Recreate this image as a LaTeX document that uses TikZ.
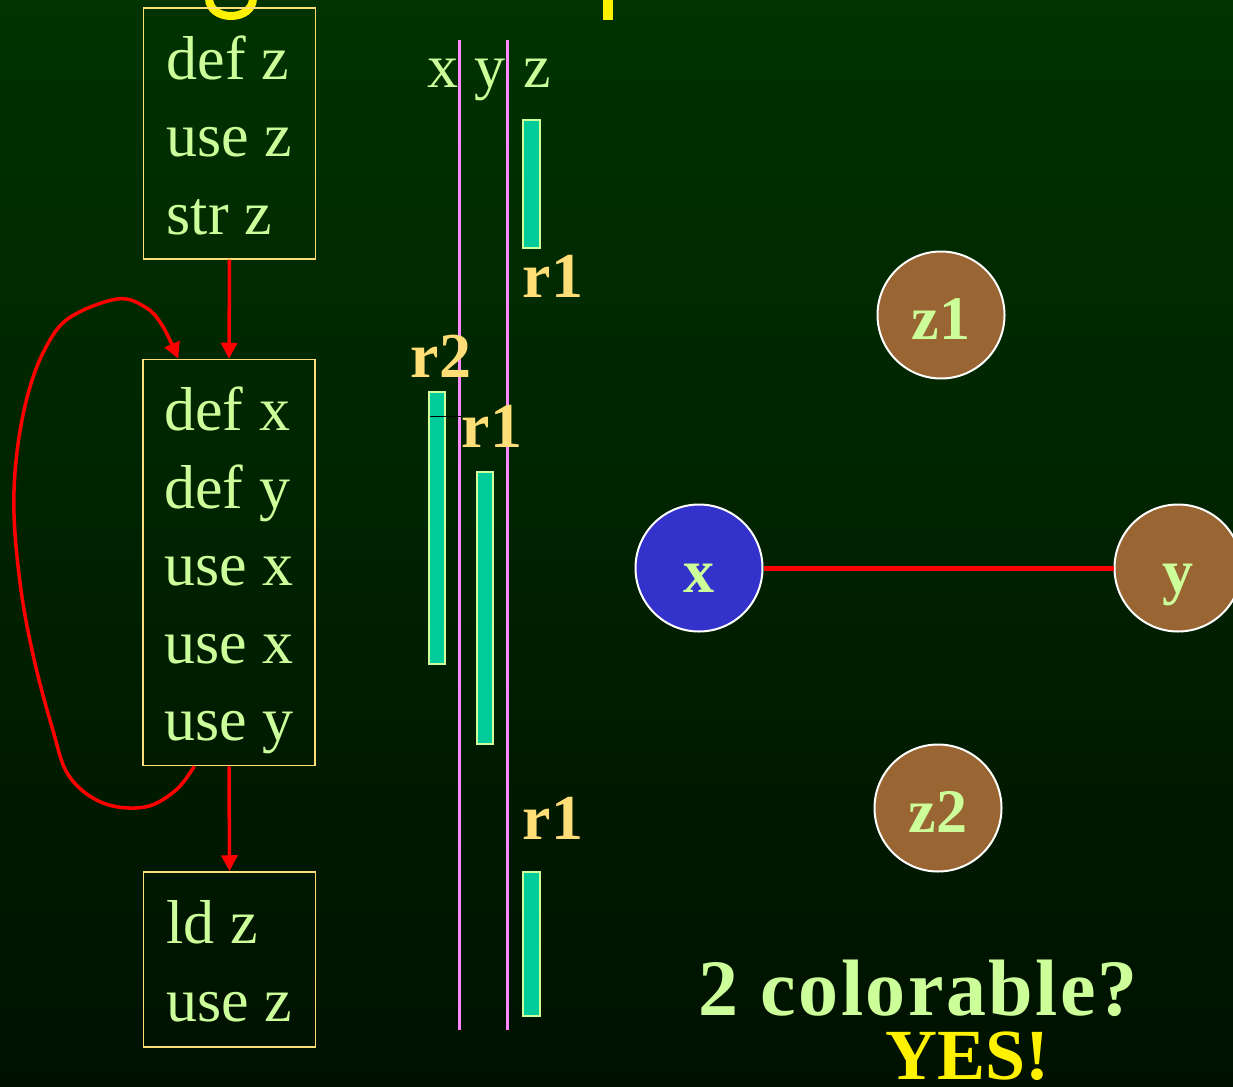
\documentclass[tikz,border=0pt]{standalone}
\usepackage{fontspec}
\setmainfont{Liberation Serif}
\usetikzlibrary{arrows.meta}

\definecolor{bgtop}{RGB}{0,51,0}
\definecolor{bgbot}{RGB}{0,17,0}
\definecolor{chalk}{RGB}{204,255,153}
\definecolor{gold}{RGB}{255,221,119}
\definecolor{rangefill}{RGB}{0,204,153}
\definecolor{lilac}{RGB}{255,136,255}
\definecolor{clay}{RGB}{153,102,51}
\definecolor{indigo}{RGB}{51,51,204}

% fixed room above the first and below the last line of a block
\newcommand{\lnhead}{\rule{0pt}{71pt}}
\newcommand{\lntail}{\rule[-25pt]{0pt}{25pt}}

\begin{document}
\begin{tikzpicture}[x=1pt, y=-1pt,
    block/.style={draw=gold, line width=1.5pt, rectangle, align=left, inner ysep=0pt, text=chalk, minimum width=172pt, font=\fontsize{62}{77.5}\selectfont},
    flow/.style={draw=red, line width=3.5pt, -{Triangle[length=16pt, width=16pt]}},
    var/.style={text=chalk, anchor=base, font=\fontsize{62}{62}\selectfont},
    reg/.style={text=gold, anchor=base, font=\bfseries\fontsize{64}{64}\selectfont},
    live/.style={draw=chalk, fill=rangefill, line width=2pt},
    column/.style={draw=lilac, line width=3pt},
    vnode/.style={circle, draw=white, line width=2pt, minimum size=127pt, inner sep=0pt, text=chalk, text height=48pt, text depth=0pt, font=\bfseries\fontsize{62}{62}\selectfont}]
    \useasboundingbox (0,0) rectangle (1233,1086);
    \shade[top color=bgtop, bottom color=bgbot] (0,0) rectangle (1233,1086);
    \clip (0,0) rectangle (1233,1086);

    % Title remains
    \draw[yellow, line width=8pt] (209,-2) .. controls (209,22) and (253,22) .. (253,-2);
    \fill[yellow] (603,0) rectangle (613,20);

    % Blocks
    \node[block, minimum height=251pt] (cfgA) at (229.5,133.5) {\lnhead def z\\use z\\str z\lntail};
    \node[block, minimum height=405pt] (cfgB) at (229,562.5) {\lnhead def x\\def y\\use x\\use x\\use y\lntail};
    \node[block, minimum height=175pt] (cfgC) at (229.5,959.5) {\lnhead ld z\\use z\lntail};

    % Arrows
    \draw[flow] (cfgA.south) -- (cfgB.north);
    \draw[flow] (cfgB.south) -- (cfgC.north);
    \coordinate (loopOut) at ([xshift=52pt]cfgB.south west);
    \coordinate (loopIn) at ([xshift=36pt]cfgB.north west);
    \draw[flow] plot[smooth, tension=0.6] coordinates {(loopOut) (176,790) (145,807) (103,803) (69,776) (52,727) (34,659) (21,590) (14,514) (17,452) (28,394) (45,349) (69,318) (117,299) (145,307) (162,325) (loopIn)};

    % Live ranges
    \draw[column] (459,40) -- (459,1030);
    \draw[column] (507,40) -- (507,1030);
    \node[var] (hx) at (443,88) {x};
    \node[var] (hy) at (490,88) {y};
    \node[var] (hz) at (537,88) {z};
    \draw[live] (523,120) rectangle (540,248);
    \draw[live] (429,392) rectangle (445,664);
    \draw[live] (477,472) rectangle (493,744);
    \draw[live] (523,872) rectangle (540,1016);
    \draw[black, line width=1pt] (430,416) -- (462,416);
    \node[reg] (rzA) at (553,297) {r1};
    \node[reg] (rx) at (441,377) {r2};
    \node[reg] (ry) at (492,447) {r1};
    \node[reg] (rzB) at (553,839) {r1};

    % Interference graph
    \node[vnode, fill=clay] (z1) at (941,315) {z1};
    \node[vnode, fill=indigo] (vx) at (699,568) {x};
    \node[vnode, fill=clay, right of=vx, node distance=479pt] (vy) {y};
    \node[vnode, fill=clay] (z2) at (938,808) {z2};
    \draw[red, line width=5pt] (vx) -- (vy);

    \node[anchor=base west, text=chalk, font=\bfseries\fontsize{80}{80}\selectfont\addfontfeatures{LetterSpace=3}] (ask) at (695,1015) {2 colorable?};
    \node[anchor=base west, text=yellow, font=\bfseries\fontsize{72}{72}\selectfont] (answer) at (882,1079) {YES!};
\end{tikzpicture}
\end{document}
